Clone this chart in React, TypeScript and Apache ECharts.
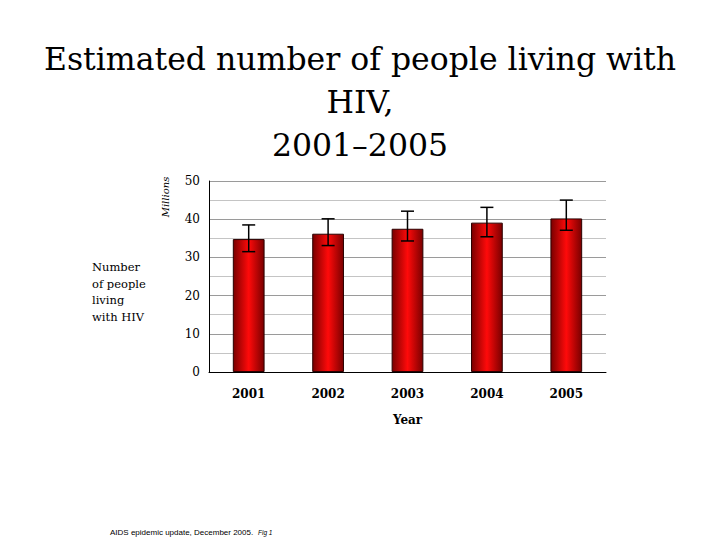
import React, { useEffect, useRef } from "react";
import * as echarts from "echarts";

const years = ["2001", "2002", "2003", "2004", "2005"];
const estimates = [34.8, 36.2, 37.5, 39.1, 40.2];
const lowBounds = [31.5, 33.1, 34.3, 35.4, 37.1];
const highBounds = [38.5, 40.1, 42.1, 43.1, 45.0];

const titleText = "Estimated number of people living with\nHIV,\n2001\u20132005";
const yAxisUnit = "Millions";
const sideLabel = "Number\nof people\nliving\nwith HIV";
const xAxisName = "Year";
const sourceNote = "AIDS epidemic update, December 2005.";
const figNote = "Fig 1";

const SERIF = "'DejaVu Serif', serif";

export default function App() {
  const ref = useRef<HTMLDivElement>(null);
  useEffect(() => {
    if (!ref.current) return;
    const chart = echarts.init(ref.current, undefined, { renderer: "svg" });
    const barGradient = new echarts.graphic.LinearGradient(0, 0, 1, 0, [
      { offset: 0, color: "#7a0000" },
      { offset: 0.5, color: "#ff0a0a" },
      { offset: 1, color: "#7a0000" },
    ]);
    chart.setOption({
      animation: false,
      backgroundColor: "#ffffff",
      grid: { left: 209, right: 114, top: 181, bottom: 168, containLabel: false },
      xAxis: {
        type: "category",
        data: years,
        axisLine: { show: true, lineStyle: { color: "#000", width: 1 } },
        axisTick: { show: false },
        axisLabel: { margin: 16, fontFamily: SERIF, fontSize: 12, fontWeight: "bold", color: "#000" },
        name: xAxisName,
        nameLocation: "middle",
        nameGap: 42,
        nameTextStyle: { fontFamily: SERIF, fontSize: 12, fontWeight: "bold", color: "#000" },
        splitLine: { show: false },
      },
      yAxis: {
        type: "value",
        min: 0,
        max: 50,
        interval: 10,
        axisLine: { show: true, lineStyle: { color: "#000", width: 1 } },
        axisTick: { show: false },
        minorTick: { show: false, splitNumber: 2 },
        axisLabel: { margin: 9, fontFamily: SERIF, fontSize: 12, color: "#000" },
        splitLine: { show: true, lineStyle: { color: "#9a9a9a", width: 1 } },
        minorSplitLine: { show: true, lineStyle: { color: "#c4c4c4", width: 1 } },
      },
      series: [
        {
          type: "bar",
          data: estimates,
          barWidth: "40%",
          itemStyle: { color: barGradient, borderColor: "#2a0000", borderWidth: 1 },
          z: 2,
        },
        {
          type: "custom",
          data: years.map((_, i) => [i, lowBounds[i], highBounds[i]]),
          encode: { x: 0, y: [1, 2] },
          z: 3,
          renderItem: (params: any, api: any) => {
            const idx = api.value(0);
            const lo = api.coord([idx, api.value(1)]);
            const hi = api.coord([idx, api.value(2)]);
            const hw = 6.5;
            const style = { stroke: "#000", lineWidth: 1.5 };
            return {
              type: "group",
              children: [
                { type: "line", shape: { x1: hi[0], y1: hi[1], x2: lo[0], y2: lo[1] }, style },
                { type: "line", shape: { x1: hi[0] - hw, y1: hi[1], x2: hi[0] + hw, y2: hi[1] }, style },
                { type: "line", shape: { x1: lo[0] - hw, y1: lo[1], x2: lo[0] + hw, y2: lo[1] }, style },
              ],
            };
          },
        },
      ],
      graphic: [
        {
          type: "text",
          x: 360,
          y: 37,
          style: {
            text: titleText,
            fontFamily: SERIF,
            fontSize: 31.5,
            lineHeight: 43,
            fill: "#000",
            align: "center",
            verticalAlign: "top",
          },
        },
        {
          type: "text",
          x: 165,
          y: 197,
          rotation: Math.PI / 2,
          style: {
            text: yAxisUnit,
            fontFamily: SERIF,
            fontStyle: "italic",
            fontSize: 10,
            fill: "#000",
            align: "center",
            verticalAlign: "middle",
          },
        },
        {
          type: "text",
          x: 92,
          y: 259,
          style: {
            text: sideLabel,
            fontFamily: SERIF,
            fontSize: 11.5,
            lineHeight: 16.5,
            fill: "#000",
            align: "left",
            verticalAlign: "top",
          },
        },
        {
          type: "text",
          x: 110,
          y: 532,
          style: {
            text: sourceNote,
            fontFamily: "'Liberation Sans', Arial, sans-serif",
            fontSize: 8,
            fill: "#000",
            align: "left",
            verticalAlign: "middle",
          },
        },
        {
          type: "text",
          x: 258,
          y: 532,
          style: {
            text: figNote,
            fontFamily: "'Liberation Sans', Arial, sans-serif",
            fontStyle: "italic",
            fontSize: 6.5,
            fill: "#000",
            align: "left",
            verticalAlign: "middle",
          },
        },
      ],
    });
    return () => chart.dispose();
  }, []);
  return (
    <div
      ref={ref}
      style={{ position: "fixed", left: 0, top: 0, width: 720, height: 540, background: "#fff" }}
    />
  );
}
